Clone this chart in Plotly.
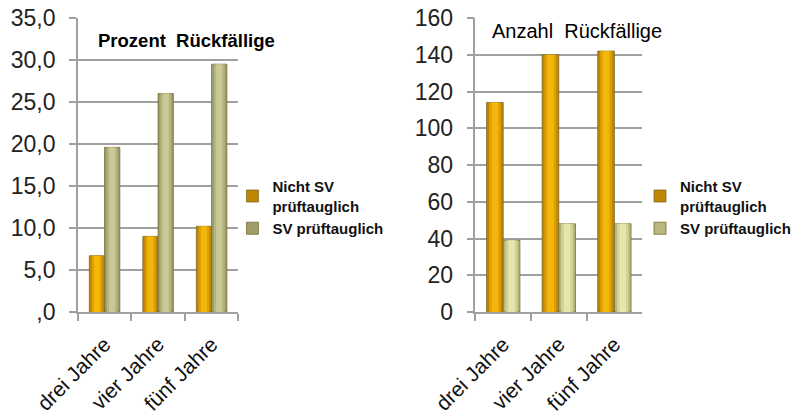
import plotly.graph_objects as go

# Categories and values
years = ["drei Jahre", "vier Jahre", "fünf Jahre"]
pct_nicht_sv = [6.7, 9.0, 10.2]
pct_sv = [19.6, 26.0, 29.5]
anz_nicht_sv = [114, 140, 142]
anz_sv = [39, 48, 48]

pct_ticks = [0, 5, 10, 15, 20, 25, 30, 35]
pct_ticktext = [",0", "5,0", "10,0", "15,0", "20,0", "25,0", "30,0", "35,0"]
anz_ticks = [0, 20, 40, 60, 80, 100, 120, 140, 160]

name_nicht = "Nicht SV<br>prüftauglich"
name_sv = "SV prüftauglich"

# Cylinder-style shading: edge colour, then lighter inner strips
ORANGE = ["#C08600", "#DDA000", "#F3B70C"]
OLIVE_L = ["#9E9E6C", "#B5B583", "#C9C996"]
OLIVE_R = ["#B8B87E", "#D2D298", "#E5E5AC"]

FONT = "Liberation Sans, Arial, sans-serif"
GRID = "#A0A0A0"

fig = go.Figure()


def add_series(values, colors, name, xa, ya, legend, offset, width):
    # base bar carries the legend entry and outline
    fig.add_trace(go.Bar(
        x=years, y=values, name=name, xaxis=xa, yaxis=ya, legend=legend,
        offset=offset, width=width,
        marker=dict(color=colors[0], line=dict(color="#7A6A30", width=0.8)),
        hoverinfo="skip",
    ))
    # lighter inner strips for a rounded look
    for frac, col in ((0.7, colors[1]), (0.4, colors[2])):
        w = width * frac
        fig.add_trace(go.Bar(
            x=years, y=values, xaxis=xa, yaxis=ya, showlegend=False,
            offset=offset + (width - w) / 2, width=w,
            marker=dict(color=col, line=dict(width=0)),
            hoverinfo="skip",
        ))


wl = 0.285
add_series(pct_nicht_sv, ORANGE, name_nicht, "x", "y", "legend", -wl, wl)
add_series(pct_sv, OLIVE_L, name_sv, "x", "y", "legend", 0.0, wl)

wr = 0.30
add_series(anz_nicht_sv, ORANGE, name_nicht, "x2", "y2", "legend2", -wr, wr)
add_series(anz_sv, OLIVE_R, name_sv, "x2", "y2", "legend2", 0.0, wr)

W, H = 796, 418
y_dom = [(H - 312) / H, (H - 18) / H]

xaxis_common = dict(
    type="category", tickson="boundaries", ticks="outside", ticklen=7,
    tickwidth=1.5, tickcolor=GRID, showline=True, linecolor=GRID,
    linewidth=1.5, showgrid=False, tickangle=-45, automargin=False,
    tickfont=dict(family=FONT, size=21, color="#111111"),
    ticklabelstandoff=10, range=[-0.5, 2.5], fixedrange=True,
)
yaxis_common = dict(
    showgrid=True, gridcolor=GRID, gridwidth=1.5, showline=True,
    linecolor=GRID, linewidth=1.5, ticks="outside", ticklen=7,
    tickwidth=1.5, tickcolor=GRID, zeroline=False, automargin=False,
    tickfont=dict(family=FONT, size=23, color="#222222"),
    ticklabelstandoff=9, domain=y_dom,
)

legend_common = dict(
    y=1 - 170 / H, xanchor="left", yanchor="top",
    bgcolor="rgba(0,0,0,0)", traceorder="normal",
    font=dict(family=FONT, size=15, color="#111111", weight="bold"),
    itemclick=False, itemdoubleclick=False,
)

fig.update_layout(
    width=W, height=H, margin=dict(l=0, r=0, t=0, b=0),
    paper_bgcolor="white", plot_bgcolor="white",
    barmode="overlay", showlegend=True,
    xaxis=dict(domain=[79 / W, 242 / W], anchor="y", **xaxis_common),
    yaxis=dict(anchor="x", range=[0, 35], tickvals=pct_ticks,
               ticktext=pct_ticktext, **yaxis_common),
    xaxis2=dict(domain=[482.7 / W, 652 / W], anchor="y2", **xaxis_common),
    yaxis2=dict(anchor="x2", range=[0, 160], tickvals=anz_ticks,
                **yaxis_common),
    legend=dict(x=236 / W, **legend_common),
    legend2=dict(x=650 / W, **legend_common),
    annotations=[
        dict(text="<b>Prozent  Rückfällige</b>", x=189 / W, y=1 - 40 / H,
             xref="paper", yref="paper", showarrow=False,
             xanchor="center", yanchor="middle",
             font=dict(family=FONT, size=18.5, color="#000000")),
        dict(text="Anzahl  Rückfällige", x=586 / W, y=1 - 31 / H,
             xref="paper", yref="paper", showarrow=False,
             xanchor="center", yanchor="middle",
             font=dict(family=FONT, size=20, color="#000000")),
    ],
)

fig.write_html("out.html")
